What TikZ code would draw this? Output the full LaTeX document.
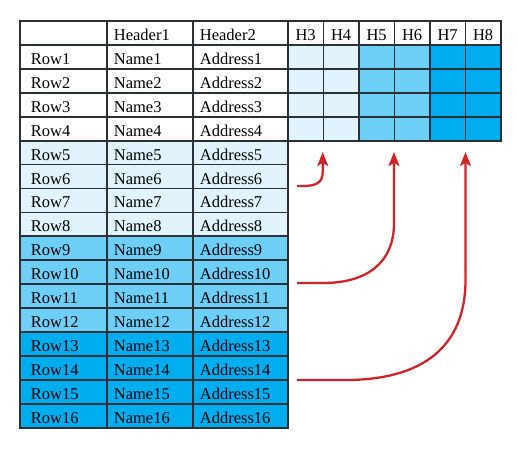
\documentclass[tikz,border=0pt]{standalone}
\usepackage{fontspec}
\setmainfont{Liberation Serif}
\usetikzlibrary{arrows.meta}
\definecolor{lightb}{HTML}{E1F3FC}
\definecolor{midb}{HTML}{6DCFF6}
\definecolor{darkb}{HTML}{00AEEF}
\definecolor{linec}{HTML}{2A3035}
\definecolor{arrowred}{HTML}{D2232A}
\tikzset{
  cellbox/.style={draw=linec, line width=1.8pt, minimum height=23.94pt, inner ysep=0pt,
    anchor=north west, text height=19.5pt, text depth=4.44pt, align=left},
  leftcell/.style={cellbox, inner xsep=#1},
  hcell/.style={cellbox, minimum width=35.5pt, inner xsep=0pt, align=center, text width=35.5pt},
  redarrow/.style={draw=arrowred, line width=2.3pt, -{Stealth[length=14pt,width=11pt,inset=3pt]}}
}
\begin{document}
\begin{tikzpicture}[x=1pt,y=-1pt,font=\fontsize{16.5}{18}\selectfont]
\useasboundingbox (0,0) rectangle (518,448);
% header row
\node[leftcell=11pt, text width=65pt] (h-1) at (19,20) {};
\node[leftcell=7pt, text width=72pt] (h-2) at (106,20) {Header1};
\node[leftcell=7pt, text width=81pt] (h-3) at (192,20) {Header2};
\foreach \k in {3,...,8}{
  \node[hcell] (h-h\k) at ({287+35.5*(\k-3)},20) {H\k};
}
% rows
\foreach \r in {1,...,16}{
  \pgfmathsetmacro{\yy}{20+23.94*\r}
  \ifnum\r<5 \def\fc{white}\else\ifnum\r<9 \def\fc{lightb}\else\ifnum\r<13 \def\fc{midb}\else\def\fc{darkb}\fi\fi\fi
  \node[leftcell=11pt, text width=65pt, fill=\fc] (r\r-1) at (19,\yy) {Row\r};
  \node[leftcell=7pt, text width=72pt, fill=\fc] (r\r-2) at (106,\yy) {Name\r};
  \node[leftcell=7pt, text width=81pt, fill=\fc] (r\r-3) at (192,\yy) {Address\r};
}
\foreach \r in {1,...,4}{
  \pgfmathsetmacro{\yy}{20+23.94*\r}
  \foreach \k/\c in {3/lightb,4/lightb,5/midb,6/midb,7/darkb,8/darkb}{
    \node[hcell, fill=\c] (r\r-h\k) at ({287+35.5*(\k-3)},\yy) {};
  }
}
% arrows
\coordinate (s1) at (297,186);
\coordinate (t1) at (322.7,152);
\coordinate (s2) at (297,283);
\coordinate (t2) at (394,152);
\coordinate (s3) at (297,380);
\coordinate (t3) at (465.5,152);
\draw[redarrow] (s1) -- (302,186) .. controls (316,186) and (322.7,183) .. (322.7,172) -- (t1);
\draw[redarrow] (s2) -- (323,283) .. controls (368,283) and (394,262) .. (394,223) -- (t2);
\draw[redarrow] (s3) -- (345,380) .. controls (425,380) and (465.5,345) .. (465.5,280) -- (t3);
\end{tikzpicture}
\end{document}
